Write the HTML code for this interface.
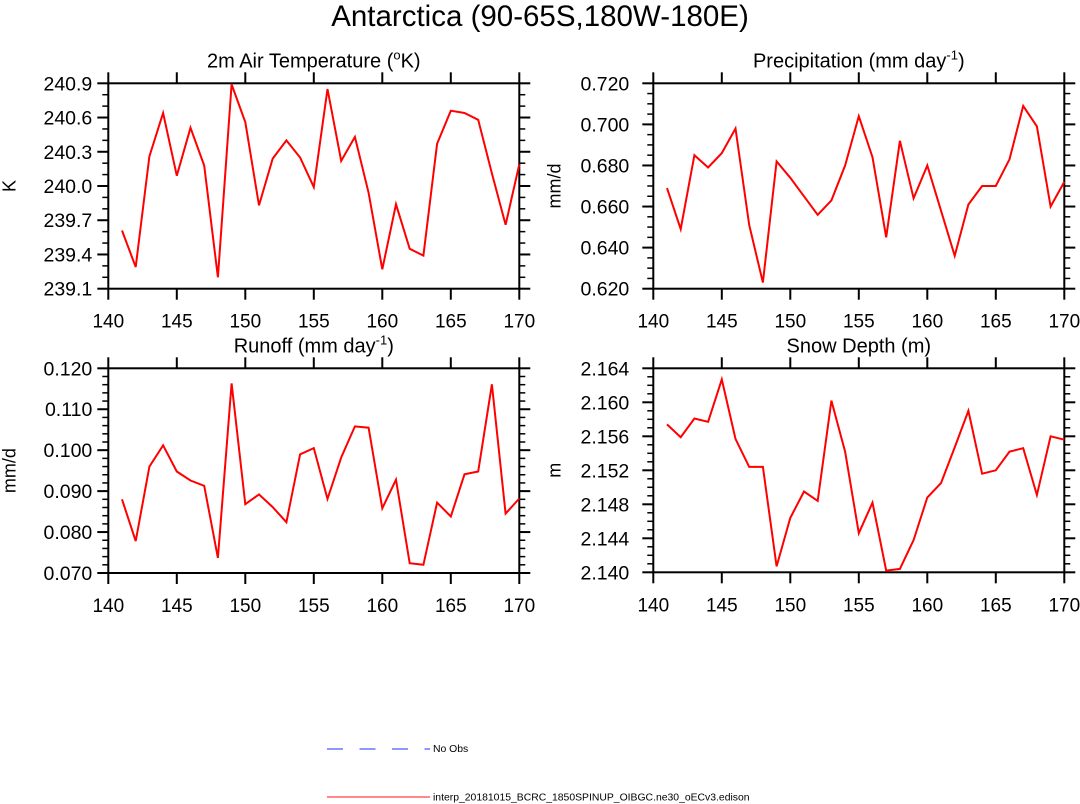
<!DOCTYPE html>
<html><head><meta charset="utf-8">
<style>
html,body{margin:0;padding:0;background:#fff;}
svg{display:block;font-family:"Liberation Sans",sans-serif;}
</style></head>
<body>
<svg id="fig" width="1080" height="804" viewBox="0 0 1080 804" xmlns="http://www.w3.org/2000/svg">
<text x="540" y="26" font-size="29.5" text-anchor="middle">Antarctica (90-65S,180W-180E)</text>
<g>
<line x1="327" y1="749" x2="430" y2="749" stroke="#7070ff" stroke-width="1.5" stroke-dasharray="16,16.5"/>
<text x="433" y="752" font-size="10.4">No Obs</text>
<line x1="327" y1="797" x2="430" y2="797" stroke="#ff6060" stroke-width="1.5"/>
<text x="433" y="800.5" font-size="10.4">interp_20181015_BCRC_1850SPINUP_OIBGC.ne30_oECv3.edison</text>
</g>
</svg>
<script>
const years = [141,142,143,144,145,146,147,148,149,150,151,152,153,154,155,156,157,158,159,160,161,162,163,164,165,166,167,168,169,170];
const tempValues = [239.61,239.29,240.26,240.64,240.09,240.51,240.18,239.20,240.89,240.56,239.83,240.24,240.40,240.25,239.99,240.85,240.22,240.43,239.94,239.27,239.84,239.45,239.39,240.37,240.66,240.64,240.58,240.11,239.66,240.19];
const precipValues = [0.669,0.649,0.685,0.679,0.686,0.698,0.651,0.623,0.682,0.674,0.665,0.656,0.663,0.680,0.704,0.684,0.645,0.692,0.664,0.680,0.658,0.636,0.661,0.670,0.670,0.683,0.709,0.699,0.660,0.672];
const runoffValues = [0.0880,0.0778,0.0960,0.1012,0.0948,0.0926,0.0913,0.0737,0.1163,0.0868,0.0892,0.0861,0.0824,0.0990,0.1005,0.0881,0.0982,0.1058,0.1055,0.0858,0.0928,0.0724,0.0720,0.0872,0.0838,0.0941,0.0948,0.1161,0.0845,0.0882];
const snowValues = [2.1574,2.1559,2.1581,2.1577,2.1627,2.1557,2.1524,2.1524,2.1407,2.1464,2.1495,2.1484,2.1602,2.1542,2.1446,2.1482,2.1402,2.1404,2.1438,2.1488,2.1505,2.1547,2.1590,2.1516,2.1520,2.1542,2.1546,2.1491,2.1560,2.1556];
const xTicks = [140,145,150,155,160,165,170];
const tempTicks = ["239.1","239.4","239.7","240.0","240.3","240.6","240.9"];
const precipTicks = ["0.620","0.640","0.660","0.680","0.700","0.720"];
const runoffTicks = ["0.070","0.080","0.090","0.100","0.110","0.120"];
const snowTicks = ["2.140","2.144","2.148","2.152","2.156","2.160","2.164"];

const NS="http://www.w3.org/2000/svg";
const fig=document.getElementById('fig');
function mk(tag,attrs,parent){const e=document.createElementNS(NS,tag);for(const k in attrs)e.setAttribute(k,attrs[k]);parent.appendChild(e);return e;}

const panels=[
 {name:'temperature',t1:'2m Air Temperature (',sup:'o',t2:'K)',ylab:'K',vals:tempValues,ticks:tempTicks,minor:0.1,gap:16,x0:108.3,y0:83.3,x1:519.3,y1:288.7},
 {name:'precipitation',t1:'Precipitation (mm day',sup:'-1',t2:')',ylab:'mm/d',vals:precipValues,ticks:precipTicks,minor:0.005,gap:24,x0:653.3,y0:83.3,x1:1064.3,y1:288.7},
 {name:'runoff',t1:'Runoff (mm day',sup:'-1',t2:')',ylab:'mm/d',vals:runoffValues,ticks:runoffTicks,minor:0.002,gap:16,x0:108.3,y0:368.3,x1:519.3,y1:573},
 {name:'snow-depth',t1:'Snow Depth (m)',sup:'',t2:'',ylab:'m',vals:snowValues,ticks:snowTicks,minor:0.001,gap:24,x0:653.3,y0:368.3,x1:1064.3,y1:572.3}
];
panels.forEach(p=>{
 const g=mk('g',{},fig);
 
 
 const tv=p.ticks.map(Number);const lo=tv[0],hi=tv[tv.length-1];
 const xs=v=>p.x0+(v-140)/30*(p.x1-p.x0);
 const ys=v=>p.y1-(v-lo)/(hi-lo)*(p.y1-p.y0);
 const t=mk('text',{x:(p.x0+p.x1)/2,y:p.y0-16,'font-size':20,'text-anchor':'middle'},g);
 
 
 t.appendChild(document.createTextNode(p.t1));
 if(p.sup){const s=mk('tspan',{dy:-8,'font-size':13},t);s.textContent=p.sup;const s2=mk('tspan',{dy:8},t);s2.textContent=p.t2;}
 const yl=mk('text',{x:0,y:0,'font-size':18,'text-anchor':'middle',transform:`translate(${p.x0-93},${(p.y0+p.y1)/2}) rotate(-90)`},g);
 
 
 yl.textContent=p.ylab;
 const fr=mk('rect',{x:p.x0,y:p.y0,width:p.x1-p.x0,height:p.y1-p.y0,fill:'none',stroke:'#000','stroke-width':2},g);
 
 
 xTicks.forEach(v=>{
  const x=xs(v);
  mk('line',{x1:x,y1:p.y1,x2:x,y2:p.y1+11,stroke:'#000','stroke-width':2},g);
  mk('line',{x1:x,y1:p.y0,x2:x,y2:p.y0-11,stroke:'#000','stroke-width':2},g);
  const l=mk('text',{x:x,y:p.y1+39,'font-size':19,'text-anchor':'middle'},g);
  
  
  l.textContent=v;
 });
 const n=Math.round((hi-lo)/p.minor);
 for(let i=0;i<=n;i++){const y=ys(lo+i*p.minor);
  mk('line',{x1:p.x0,y1:y,x2:p.x0-6,y2:y,stroke:'#000','stroke-width':1.5},g);
  mk('line',{x1:p.x1,y1:y,x2:p.x1+6,y2:y,stroke:'#000','stroke-width':1.5},g);}
 p.ticks.forEach(s=>{const y=ys(Number(s));
  mk('line',{x1:p.x0,y1:y,x2:p.x0-11,y2:y,stroke:'#000','stroke-width':2},g);
  mk('line',{x1:p.x1,y1:y,x2:p.x1+11,y2:y,stroke:'#000','stroke-width':2},g);
  const l=mk('text',{x:p.x0-p.gap,y:y+7,'font-size':19.5,'text-anchor':'end'},g);
  
  
  l.textContent=s;});
 const pts=years.map((yr,i)=>xs(yr).toFixed(1)+','+ys(p.vals[i]).toFixed(1)).join(' ');
 const pl=mk('polyline',{points:pts,fill:'none',stroke:'#ff0000','stroke-width':2,'stroke-linejoin':'miter'},g);
 
 
});
</script>
</body></html>
